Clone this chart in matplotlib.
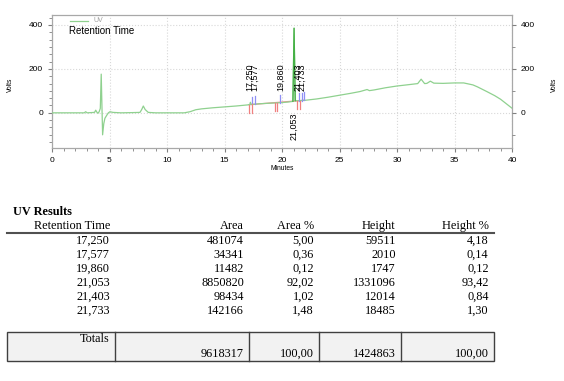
import matplotlib
matplotlib.use("Agg")
import matplotlib.pyplot as plt
from matplotlib.ticker import MultipleLocator, AutoMinorLocator
from matplotlib.lines import Line2D
from matplotlib.patches import Rectangle

# ---------------- data ----------------
trace_t = [0, 2.8, 2.93, 3.05, 3.7, 3.8, 3.9, 4.0, 4.1, 4.2, 4.28, 4.33, 4.4, 4.5, 4.6,
           4.75, 4.9, 5.04, 5.3, 6.0, 7.0, 7.65, 7.8, 7.94, 8.1, 8.37, 9.0, 11.5, 12.0,
           12.5, 13.0, 14.0, 15.0, 16.0, 17.0, 17.2, 17.25, 17.32, 17.6, 18.0, 19.0,
           19.86, 20.5, 20.95, 21.05, 21.15, 21.4, 21.7, 22.0, 23.0, 24.0, 25.0, 26.0,
           26.8, 27.4, 27.6, 28.0, 29.0, 30.0, 31.0, 31.8, 32.1, 32.4, 32.6, 32.9, 33.2,
           34.0, 35.0, 35.8, 36.6, 37.0, 37.8, 38.5, 39.0, 40.0]
trace_v = [0, 0, 5, 0, 2, 12, 3, -2, 5, 20, 176, 60, -100, -50, -25,
           -12, 0, 5, 2, 0, 1, 2, 15, 31, 15, 2, 0, 0, 5,
           14, 18, 23, 27, 31, 36, 38, 48, 38, 39, 41, 44,
           46, 49, 52, 385, 55, 55, 56, 57, 63, 71, 80, 89,
           97, 106, 101, 104, 114, 122, 128, 133, 153, 133, 134, 144, 135,
           134, 136, 136, 127, 118, 97, 78, 62, 21]

main_peak_t = [20.95, 21.05, 21.15]
main_peak_v = [52, 385, 55]

peak_times = ["17,250", "17,577", "19,860", "21,053", "21,403", "21,733"]
peak_label_t = [17.2, 17.65, 19.87, 21.053, 21.35, 21.75]

blue_tick_t = [17.4, 17.65, 19.83, 21.5, 21.7, 21.9]
blue_tick_base = [38, 39, 46, 55, 56, 57]
red_tick_t = [17.13, 17.36, 19.4, 19.6, 21.33, 21.57]
red_tick_base = [37, 38, 45, 45, 55, 55]

table_headers = ["Retention Time", "Area", "Area %", "Height", "Height %"]
rt_col = ["17,250", "17,577", "19,860", "21,053", "21,403", "21,733"]
area_col = ["481074", "34341", "11482", "8850820", "98434", "142166"]
area_pct_col = ["5,00", "0,36", "0,12", "92,02", "1,02", "1,48"]
height_col = ["59511", "2010", "1747", "1331096", "12014", "18485"]
height_pct_col = ["4,18", "0,14", "0,12", "93,42", "0,84", "1,30"]
totals = ["9618317", "100,00", "1424863", "100,00"]

# ---------------- figure ----------------
W, H = 564, 381
fig = plt.figure(figsize=(W / 100, H / 100), dpi=100)

def fx(px):
    return px / W

def fy(py):
    return 1 - py / H

ax = fig.add_axes([fx(52), fy(148), fx(512) - fx(52), fy(15) - fy(148)])
ax.set_xlim(0, 40)
ax.set_ylim(-160, 445)

green = "#8fd18f"
ax.plot(trace_t, trace_v, color=green, lw=0.9, zorder=3)
ax.plot(main_peak_t, main_peak_v, color="#45b045", lw=0.9, zorder=4)

# integration baseline
ax.plot([red_tick_t[0], blue_tick_t[-1]], [red_tick_base[0], blue_tick_base[-1]],
        color="#f09090", lw=0.9, zorder=2)
for t, b in zip(blue_tick_t, blue_tick_base):
    ax.plot([t, t], [b, b + 36], color="#8f8ff5", lw=0.9, zorder=5)
for t, b in zip(red_tick_t, red_tick_base):
    ax.plot([t, t], [b, b - 38], color="#f08080", lw=0.9, zorder=5)

for lab, t in zip(peak_times, peak_label_t):
    if lab == "21,053":
        ax.text(t, 2, lab, rotation=90, ha="center", va="top", fontsize=6.5,
                family="Liberation Sans", zorder=6)
    else:
        ax.text(t, 98, lab, rotation=90, ha="center", va="bottom", fontsize=6.5,
                family="Liberation Sans", zorder=6)

# axes styling
ax.xaxis.set_major_locator(MultipleLocator(5))
ax.xaxis.set_minor_locator(MultipleLocator(1))
ax.yaxis.set_major_locator(MultipleLocator(200))
ax.yaxis.set_minor_locator(AutoMinorLocator(6))
ax.grid(True, which="major", color="#d8d8d8", ls=":", lw=0.8)
for s in ax.spines.values():
    s.set_color("#a8a8a8")
    s.set_linewidth(0.9)
ax.tick_params(which="both", colors="#808080", labelcolor="black", labelsize=6,
               direction="out")
ax.tick_params(which="major", length=3)
ax.tick_params(which="minor", length=2)
for lbl in ax.get_xticklabels() + ax.get_yticklabels():
    lbl.set_family("Liberation Sans")

ax2 = ax.twinx()
ax2.set_ylim(ax.get_ylim())
ax2.yaxis.set_major_locator(MultipleLocator(200))
ax2.yaxis.set_minor_locator(AutoMinorLocator(2))
ax2.tick_params(which="both", colors="#808080", labelcolor="black", labelsize=6)
ax2.tick_params(which="major", length=3)
ax2.tick_params(which="minor", length=2)
for s in ax2.spines.values():
    s.set_visible(False)
for lbl in ax2.get_yticklabels():
    lbl.set_family("Liberation Sans")

fig.text(fx(10), fy(85), "Volts", rotation=90, ha="center", va="center", fontsize=4.8,
         family="Liberation Sans")
fig.text(fx(554), fy(85), "Volts", rotation=90, ha="center", va="center", fontsize=4.8,
         family="Liberation Sans")
fig.text(fx(282), fy(168), "Minutes", ha="center", va="center", fontsize=4.8,
         family="Liberation Sans")

# legend
fig.add_artist(Line2D([fx(70), fx(88)], [fy(20.5), fy(20.5)], color=green, lw=0.9))
fig.text(fx(94), fy(20), "UV", ha="left", va="center", fontsize=5, color="#a0a0a0",
         family="Liberation Sans")
fig.text(fx(69), fy(30.5), "Retention Time", ha="left", va="center", fontsize=7,
         family="Liberation Sans")

# ---------------- table ----------------
serif = "Liberation Serif"
fs = 8.8
fig.text(fx(13), fy(212), "UV Results", ha="left", va="center", fontsize=fs,
         family=serif, weight="bold")
col_right = [110, 244, 314, 395.5, 488.5]
for x, h in zip(col_right, table_headers):
    fig.text(fx(x), fy(226), h, ha="right", va="center", fontsize=fs, family=serif)
fig.add_artist(Line2D([fx(7), fx(494)], [fy(232.8), fy(232.8)], color="#505050", lw=1.5))

row_y = [240.7, 254.8, 268.6, 282.7, 296.7, 310.8]
cols = [rt_col, area_col, area_pct_col, height_col, height_pct_col]
for c, x in zip(cols, col_right):
    for y, v in zip(row_y, c):
        fig.text(fx(x), fy(y), v, ha="right", va="center", fontsize=fs, family=serif)

# totals box
box_top, box_bot = 332.3, 360.7
fig.add_artist(Rectangle((fx(7.3), fy(box_bot)), fx(494) - fx(7.3), fy(box_top) - fy(box_bot),
                         transform=fig.transFigure, facecolor="#f2f2f2",
                         edgecolor="#404040", lw=1.0))
for xd in [115, 249.3, 319.3, 401]:
    fig.add_artist(Line2D([fx(xd), fx(xd)], [fy(box_top), fy(box_bot)], color="#404040", lw=1.0))
fig.text(fx(109.3), fy(339.5), "Totals", ha="right", va="center", fontsize=fs, family=serif)
for x, v in zip(col_right[1:], totals):
    fig.text(fx(x), fy(354), v, ha="right", va="center", fontsize=fs, family=serif)

fig.savefig("out.png", dpi=100, facecolor="white")
